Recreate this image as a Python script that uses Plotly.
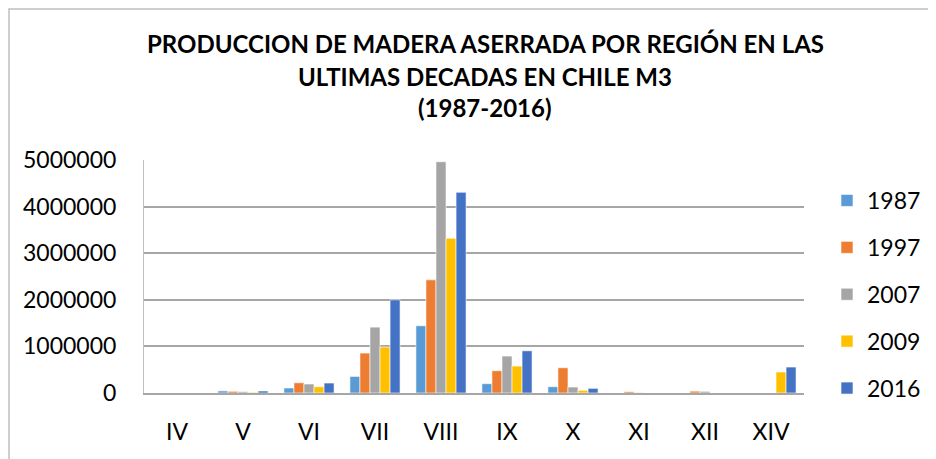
import plotly.graph_objects as go

regiones = ["IV", "V", "VI", "VII", "VIII", "IX", "X", "XI", "XII", "XIV"]
anios = ["1987", "1997", "2007", "2009", "2016"]
prod_1987 = [0, 45000, 107000, 356000, 1443000, 200000, 135000, 0, 0, 0]
prod_1997 = [0, 36000, 220000, 857000, 2428000, 478000, 542000, 28000, 40000, 0]
prod_2007 = [0, 28000, 193000, 1414000, 4963000, 793000, 128000, 8000, 35000, 0]
prod_2009 = [0, 15000, 135000, 986000, 3320000, 578000, 57000, 0, 0, 450000]
prod_2016 = [0, 43000, 214000, 2000000, 4307000, 906000, 100000, 0, 0, 557000]
colores = ["#5B9BD5", "#ED7D31", "#A5A5A5", "#FFC000", "#4472C4"]

series = [prod_1987, prod_1997, prod_2007, prod_2009, prod_2016]
FUENTE = "Lato, Calibri, sans-serif"

# la pagina tiene 8px de margen en el body
OFF = 8
# area de trazado en px de pantalla: x 144..804, y 160..393
X0, X1, Y0, Y1 = 144, 804, 160, 393
W, H = X1 - X0, Y1 - Y0
L, T = X0 - OFF, Y0 - OFF
R, B = 936 - L - W, 459 - T - H


def px_x(px):
    return (px - X0) / W


def px_y(py):
    return (Y1 - py) / H


fig = go.Figure()

for anio, valores, color in zip(anios, series, colores):
    fig.add_trace(go.Bar(
        x=regiones,
        y=valores,
        name=anio,
        legendgroup=anio,
        marker=dict(color=color, line=dict(color="white", width=0.6)),
    ))

# titulo en tres lineas
titulo = [
    ("PRODUCCION DE MADERA ASERRADA POR REGIÓN EN LAS", 44),
    ("ULTIMAS DECADAS EN CHILE M3", 76),
    ("(1987-2016)", 107),
]
for texto, py in titulo:
    fig.add_annotation(
        text=f"<b>{texto}</b>", xref="paper", yref="paper",
        x=px_x(485), y=px_y(py), xanchor="center", yanchor="middle",
        showarrow=False, font=dict(family=FUENTE, size=24, color="black"),
    )

# borde del grafico
fig.add_shape(
    type="rect", xref="paper", yref="paper",
    x0=px_x(9), x1=px_x(929), y0=px_y(480), y1=px_y(9),
    line=dict(color="#BFBFBF", width=1.5), layer="below",
)

fig.update_layout(
    width=936, height=459,
    margin=dict(l=L, r=R, t=T, b=B),
    paper_bgcolor="white", plot_bgcolor="white",
    barmode="group", bargap=0.24, bargroupgap=0,
    font=dict(family=FUENTE, size=23, color="black"),
    showlegend=True,
    legend=dict(
        x=px_x(827), y=px_y(179), xanchor="left", yanchor="top",
        tracegroupgap=14, traceorder="grouped",
        font=dict(family=FUENTE, size=23, color="black"),
        bgcolor="rgba(0,0,0,0)",
    ),
)

fig.update_xaxes(
    showline=True, linecolor="#A6A6A6", linewidth=1.5,
    ticks="outside", ticklen=18, tickcolor="rgba(0,0,0,0)",
    showgrid=False,
)
fig.update_yaxes(
    range=[0, 5000000], dtick=1000000, tickformat="d",
    showgrid=True, gridcolor="#A6A6A6", gridwidth=1.5,
    showline=True, linecolor="#BFBFBF", linewidth=1,
    ticks="outside", ticklen=22, tickcolor="rgba(0,0,0,0)",
    zeroline=False,
)

fig.write_html("out.html")
